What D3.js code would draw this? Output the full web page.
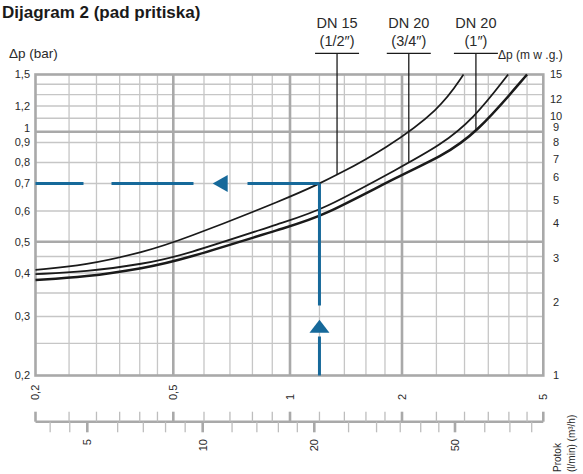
<!DOCTYPE html>
<html>
<head>
<meta charset="utf-8">
<script src="https://cdn.jsdelivr.net/npm/d3@7"></script>
<style>
  html, body { margin: 0; padding: 0; background: #fff; }
  svg { display: block; }
  text { font-family: "Liberation Sans", Arial, sans-serif; fill: #2a2a2a; }
</style>
</head>
<body>
<script>
// ---------------- DATA ----------------
const title = "Dijagram 2 (pad pritiska)";
const leftAxisTitle = "Δp (bar)";
const rightAxisTitle = "Δp (m w .g.)";
const flowTitle = ["Protok", "(l/min) (m³/h)"];

// flow grid (m³/h)
const flowGrid = [0.2,0.25,0.3,0.35,0.4,0.45,0.5,0.6,0.7,0.8,0.9,1,1.2,1.4,1.6,1.8,2,2.5,3,3.5,4,4.5,5];
const flowMajor = [0.2,0.5,1,2,5];
const flowLabels = [0.2,0.5,1,2,5];

// pressure grid (bar)
const barGrid = [0.2,0.25,0.3,0.35,0.4,0.45,0.5,0.6,0.7,0.8,0.9,1,1.1,1.2,1.3,1.4,1.5];
const barMajor = [0.5,1];
const barLabels = [0.2,0.3,0.4,0.5,0.6,0.7,0.8,0.9,1,1.2,1.5];

// right axis (m w.g.)
const mwgLabels = [1,2,3,4,5,6,7,8,9,10,12,15];

// l/min axis
const lminTicks = [4,4.5,5,6,7,8,9,10,12,14,16,18,20,25,30,35,40,45,50,60,70,80];
const lminMajor = [5,10,20,50];
const lminLabels = [5,10,20,50];

// curves: flow (m³/h) and pressure loss (bar)
const seriesNames = ["DN 15", "DN 20", "DN 20"];
const seriesSizes = ["(1/2″)", "(3/4″)", "(1″)"];
const dn15Flow = [0.2,0.278,0.415,0.52,1,1.2,1.338,1.8,2.56,2.98];
const dn15Loss = [0.409,0.422,0.466,0.503,0.648,0.70,0.739,0.865,1.17,1.5];
const dn20aFlow = [0.2,0.278,0.415,0.52,1,1.2,2,2.56,3.17,3.98];
const dn20aLoss = [0.397,0.403,0.428,0.450,0.569,0.599,0.78,0.885,1.09,1.5];
const dn20bFlow = [0.2,0.278,0.415,0.52,1,1.2,2,2.56,3.23,4.5];
const dn20bLoss = [0.382,0.389,0.415,0.437,0.549,0.576,0.742,0.826,0.977,1.5];
const leaderFlow = [1.338, 2.09, 3.23];

// example reading
const exampleFlow = 1.2;
const exampleLoss = 0.7;

// ---------------- SCALES ----------------
const W = 583, H = 474;
const x = d3.scaleLog().domain([0.2,0.5,1,2,5]).range([35.5,173.3,290,402,543.3]);
const y = d3.scaleLog()
  .domain([0.2,0.25,0.3,0.35,0.4,0.45,0.5,0.6,0.7,0.8,0.9,1,1.5])
  .range([375.5,343.3,316.5,293,273,256.5,241.7,211,183.5,162.5,142.5,131.7,74.5]);
const yR = d3.scaleLog()
  .domain([1,2,3,4,5,6,7,8,9,10,12,15])
  .range([375,301.7,258.3,223.3,200,177.3,159,141.7,126.7,116,99.3,74]);
const xL = d3.scaleLog().domain([5,10,20,50,80]).range([87.3,202.7,314.3,455,531.7]);

const fmt = v => String(v).replace(".", ",");

const svg = d3.select("body").append("svg").attr("width", W).attr("height", H);

const x0 = x(0.2), x1 = x(5), yTop = y(1.5), yBot = y(0.2);
const minorCol = "#c6c6c6", majorCol = "#a9a9a9";

// ---------------- GRID ----------------
const grid = svg.append("g");
grid.selectAll("line.vx").data(flowGrid.filter(d => !flowMajor.includes(d))).join("line")
  .attr("x1", d => x(d)).attr("x2", d => x(d)).attr("y1", yTop).attr("y2", yBot)
  .attr("stroke", minorCol).attr("stroke-width", 1.3);
grid.selectAll("line.hy").data(barGrid.filter(d => !barMajor.includes(d) && d !== 0.2 && d !== 1.5)).join("line")
  .attr("x1", x0).attr("x2", x1).attr("y1", d => y(d)).attr("y2", d => y(d))
  .attr("stroke", minorCol).attr("stroke-width", 1.3);
grid.selectAll("line.vmaj").data(flowMajor.filter(d => d !== 0.2 && d !== 5)).join("line")
  .attr("x1", d => x(d)).attr("x2", d => x(d)).attr("y1", yTop).attr("y2", yBot)
  .attr("stroke", majorCol).attr("stroke-width", 2.6);
grid.selectAll("line.hmaj").data(barMajor).join("line")
  .attr("x1", x0).attr("x2", x1).attr("y1", d => y(d)).attr("y2", d => y(d))
  .attr("stroke", majorCol).attr("stroke-width", 2.6);
grid.append("rect").attr("x", x0).attr("y", yTop).attr("width", x1 - x0).attr("height", yBot - yTop)
  .attr("fill", "none").attr("stroke", majorCol).attr("stroke-width", 2.6);

// ---------------- CURVES ----------------
const line = d3.line().x(d => x(d[0])).y(d => y(d[1])).curve(d3.curveBasis);
const series = [
  { flow: dn15Flow, loss: dn15Loss, w: 1.7 },
  { flow: dn20aFlow, loss: dn20aLoss, w: 1.8 },
  { flow: dn20bFlow, loss: dn20bLoss, w: 2.5 }
];
const paths = series.map(s =>
  svg.append("path").datum(s.flow.map((f, i) => [f, s.loss[i]]))
    .attr("d", line).attr("fill", "none").attr("stroke", "#1a1a1a").attr("stroke-width", s.w)
    .node());

function yOnPath(node, tx) {
  const L = node.getTotalLength();
  let lo = 0, hi = L;
  for (let k = 0; k < 40; k++) {
    const mid = (lo + hi) / 2;
    if (node.getPointAtLength(mid).x < tx) lo = mid; else hi = mid;
  }
  return node.getPointAtLength((lo + hi) / 2).y;
}

// ---------------- BLUE EXAMPLE ----------------
const blue = "#16699a";
const ax = x(exampleFlow), ay = y(exampleLoss);
svg.append("line").attr("x1", x0).attr("x2", ax).attr("y1", ay).attr("y2", ay)
  .attr("stroke", blue).attr("stroke-width", 3).attr("stroke-dasharray", "48 28 82 54 90");
svg.append("line").attr("x1", ax).attr("x2", ax).attr("y1", ay).attr("y2", yBot)
  .attr("stroke", blue).attr("stroke-width", 3).attr("stroke-dasharray", "122 31 60");
const tipX = x0 + (ax - x0) * 0.624;
svg.append("path").attr("d", `M${tipX},${ay} L${tipX + 15},${ay - 8.5} L${tipX + 15},${ay + 8.5} Z`).attr("fill", blue);
const tipY = yBot - (yBot - ay) * 0.29;
svg.append("path").attr("d", `M${ax},${tipY} L${ax + 10},${tipY + 13} L${ax - 10},${tipY + 13} Z`).attr("fill", blue);

// ---------------- LEADERS & LABELS ----------------
const ulY = 53.3;
leaderFlow.forEach((f, i) => {
  const lx = x(f);
  const ly = yOnPath(paths[i], lx);
  svg.append("line").attr("x1", lx).attr("x2", lx).attr("y1", ulY).attr("y2", ly)
    .attr("stroke", "#1a1a1a").attr("stroke-width", 1.3);
  svg.append("line").attr("x1", lx - 22).attr("x2", lx + 22).attr("y1", ulY).attr("y2", ulY)
    .attr("stroke", "#1a1a1a").attr("stroke-width", 1.3);
  svg.append("text").attr("x", lx).attr("y", 28).attr("text-anchor", "middle")
    .style("font-size", "14.5px").text(seriesNames[i]);
  svg.append("text").attr("x", lx).attr("y", 46).attr("text-anchor", "middle")
    .style("font-size", "14.5px").text(seriesSizes[i]);
});
svg.append("text").attr("x", 498).attr("y", 58.5).style("font-size", "12px").text(rightAxisTitle);

// ---------------- TITLES ----------------
svg.append("text").attr("x", 2).attr("y", 18).style("font-size", "17px").style("font-weight", "bold")
  .style("fill", "#1a1a1a").text(title);
svg.append("text").attr("x", 9).attr("y", 58).style("font-size", "13.5px").text(leftAxisTitle);

// left labels
svg.selectAll("text.yl").data(barLabels).join("text")
  .attr("x", 30).attr("y", d => y(d) + (d === 1 ? -4 : 0)).attr("dy", "0.35em")
  .attr("text-anchor", "end").style("font-size", "11px").text(fmt);

// right labels
svg.selectAll("text.yr").data(mwgLabels).join("text")
  .attr("x", 556).attr("y", d => yR(d)).attr("dy", "0.35em")
  .attr("text-anchor", "middle").style("font-size", "11px").text(d => d);

// flow labels (rotated)
svg.selectAll("text.xl").data(flowLabels).join("text")
  .attr("transform", d => `translate(${x(d)},400) rotate(-90)`).attr("dy", "0.35em")
  .attr("text-anchor", "start").style("font-size", "11px").text(fmt);

// ---------------- l/min AXIS ----------------
const baseY = 421.7;
const ax2 = svg.append("g");
ax2.append("line").attr("x1", x0).attr("x2", x1).attr("y1", baseY).attr("y2", baseY)
  .attr("stroke", majorCol).attr("stroke-width", 2.6);
ax2.selectAll("line.up").data(flowGrid).join("line")
  .attr("x1", d => x(d)).attr("x2", d => x(d)).attr("y1", baseY).attr("y2", 411.7)
  .attr("stroke", d => flowMajor.includes(d) ? majorCol : "#bdbdbd")
  .attr("stroke-width", d => flowMajor.includes(d) ? 2.6 : 1.3);
ax2.selectAll("line.dn").data(lminTicks).join("line")
  .attr("x1", d => xL(d)).attr("x2", d => xL(d)).attr("y1", baseY).attr("y2", 432.3)
  .attr("stroke", d => lminMajor.includes(d) ? majorCol : "#bdbdbd")
  .attr("stroke-width", d => lminMajor.includes(d) ? 2.6 : 1.3);
svg.selectAll("text.ll").data(lminLabels).join("text")
  .attr("transform", d => `translate(${xL(d)},439) rotate(-90)`).attr("dy", "0.35em")
  .attr("text-anchor", "end").style("font-size", "11px").text(d => d);

flowTitle.forEach((t, i) => {
  svg.append("text").attr("transform", `translate(${557 + i * 14.5},472) rotate(-90)`).attr("dy", "0.35em")
    .attr("text-anchor", "start").style("font-size", "10px").text(t);
});
</script>
</body>
</html>
